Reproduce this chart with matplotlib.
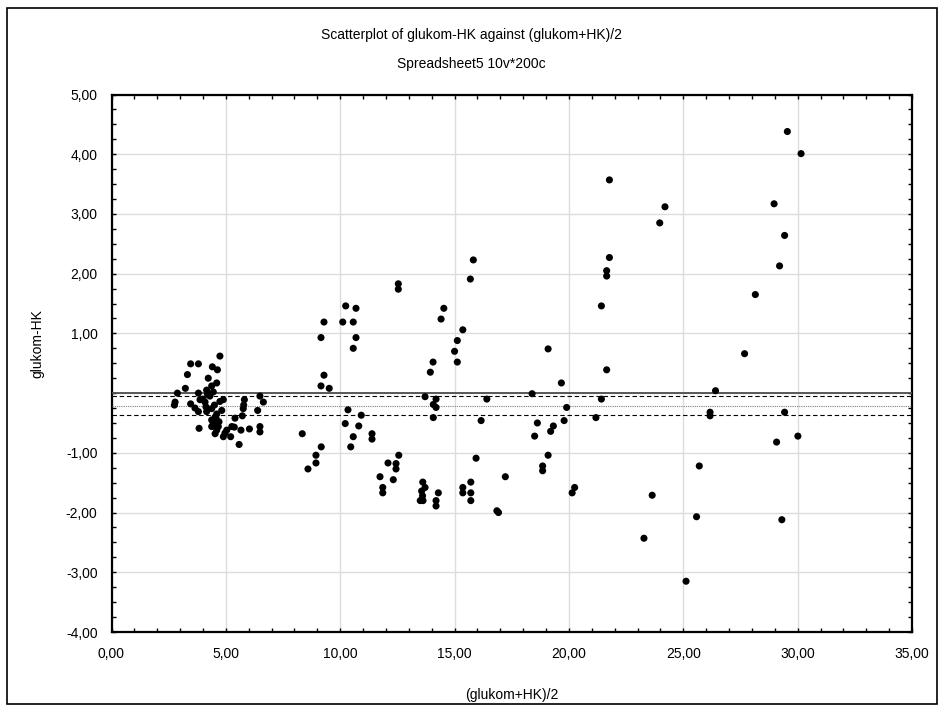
#!/usr/bin/env python3
"""Scatterplot of glukom-HK against (glukom+HK)/2 with mean and 95% CI lines."""

from pathlib import Path

import matplotlib
matplotlib.use("Agg")
import matplotlib.pyplot as plt
from matplotlib.patches import Rectangle
from matplotlib.ticker import FuncFormatter, MultipleLocator

# (glukom+HK)/2 and glukom-HK, grouped roughly by x range
mean_low = [4.74, 3.46, 3.80, 4.41, 4.63, 3.32, 4.23, 4.60, 4.38, 3.23, 4.16, 4.45,
            2.88, 3.80, 4.20, 2.75, 2.78, 3.46, 3.87, 4.09, 4.89, 4.74, 5.81, 6.49,
            6.64, 5.76, 5.78, 6.39, 3.80, 4.13, 4.38, 4.16, 4.82, 5.40, 5.72, 4.57,
            4.53, 4.45, 4.38, 4.67, 4.38, 4.53, 4.60, 4.89, 5.04, 4.96, 5.26, 5.37,
            5.66, 6.03, 6.49, 6.49, 3.83, 5.21, 5.58, 4.70, 4.60, 4.50, 4.30, 3.65,
            4.00]
diff_low = [0.62, 0.49, 0.49, 0.44, 0.39, 0.31, 0.25, 0.17, 0.12, 0.08, 0.05, 0.02,
            0.00, 0.00, -0.02, -0.20, -0.15, -0.18, -0.11, -0.15, -0.11, -0.14, -0.11, -0.05,
            -0.15, -0.26, -0.20, -0.29, -0.31, -0.23, -0.26, -0.31, -0.29, -0.42, -0.38, -0.42,
            -0.40, -0.51, -0.45, -0.56, -0.56, -0.68, -0.62, -0.73, -0.62, -0.67, -0.56, -0.57,
            -0.62, -0.60, -0.56, -0.65, -0.59, -0.73, -0.86, -0.48, -0.35, -0.20, -0.05, -0.25,
            -0.10]

mean_mid = [8.34, 9.29, 9.16, 9.29, 9.16, 9.52, 10.24, 10.69, 10.11, 10.57, 10.69, 10.57,
            10.34, 10.92, 10.22, 10.81, 10.57, 10.46, 9.17, 8.94, 8.94, 8.59, 11.39, 11.39,
            12.56, 12.09, 12.44, 12.44, 11.74, 12.32, 11.86, 11.86, 12.54, 12.54]
diff_mid = [-0.68, 1.19, 0.93, 0.30, 0.12, 0.08, 1.46, 1.42, 1.19, 1.19, 0.93, 0.75,
            -0.28, -0.37, -0.51, -0.55, -0.73, -0.90, -0.90, -1.04, -1.17, -1.27, -0.68, -0.77,
            -1.04, -1.17, -1.18, -1.27, -1.40, -1.45, -1.58, -1.67, 1.83, 1.74]

mean_upper = [13.71, 13.94, 14.06, 14.19, 14.07, 14.19, 14.07, 14.53, 14.41, 15.00, 15.12, 15.12,
              15.36, 15.69, 15.82, 16.41, 16.16, 15.94, 17.22, 16.85, 16.92, 13.61, 13.71, 13.56,
              13.50, 13.62, 14.29, 14.19, 14.19, 15.71, 15.36, 15.36, 15.71, 15.71, 13.60]
diff_upper = [-0.06, 0.35, 0.52, -0.10, -0.19, -0.24, -0.41, 1.42, 1.24, 0.70, 0.88, 0.52,
              1.06, 1.91, 2.23, -0.10, -0.46, -1.09, -1.40, -1.97, -2.00, -1.49, -1.58, -1.64,
              -1.80, -1.80, -1.67, -1.80, -1.89, -1.49, -1.58, -1.67, -1.67, -1.80, -1.72]

mean_high = [21.77, 24.20, 23.97, 21.77, 21.65, 21.65, 21.42, 19.09, 21.65, 19.67, 18.39, 21.42,
             19.90, 18.62, 19.79, 19.32, 19.20, 21.18, 18.50, 19.09, 18.85, 18.85, 20.25, 20.14,
             23.64, 23.28]
diff_high = [3.57, 3.12, 2.85, 2.27, 2.05, 1.96, 1.46, 0.74, 0.39, 0.17, -0.01, -0.10,
             -0.24, -0.50, -0.46, -0.55, -0.64, -0.41, -0.72, -1.04, -1.22, -1.30, -1.58, -1.67,
             -1.71, -2.43]

mean_top = [29.55, 30.15, 28.97, 29.43, 29.21, 28.15, 27.68, 26.41, 26.17, 26.17, 29.43, 30.01,
            29.08, 25.70, 25.58, 29.31, 25.12]
diff_top = [4.38, 4.01, 3.17, 2.64, 2.13, 1.65, 0.66, 0.04, -0.32, -0.38, -0.32, -0.72,
            -0.82, -1.22, -2.07, -2.12, -3.15]

# reference line, upper CI, mean difference, lower CI
zero_line = 0.0
ci_upper = -0.05
mean_diff = -0.21
ci_lower = -0.37

x_ticks = [0, 5, 10, 15, 20, 25, 30, 35]
y_ticks = [-4, -3, -2, -1, 0, 1, 2, 3, 4, 5]


def _comma(v, _pos=None):
    return f"{v:.2f}".replace(".", ",")


def _comma_skip_zero(v, _pos=None):
    if abs(v) < 1e-9:
        return ""
    return _comma(v)


def main() -> None:
    plt.rcParams["font.family"] = ["Liberation Sans", "DejaVu Sans"]
    plt.rcParams["font.size"] = 10

    W, H = 943, 708
    fig = plt.figure(figsize=(W / 100, H / 100), dpi=100)
    left, right, top, bottom = 111.5, 912, 94.5, 632
    ax = fig.add_axes([left / W, 1 - bottom / H, (right - left) / W, (bottom - top) / H])

    xs = mean_low + mean_mid + mean_upper + mean_high + mean_top
    ys = diff_low + diff_mid + diff_upper + diff_high + diff_top
    ax.scatter(xs, ys, s=26, color="black", edgecolors="none", zorder=4)

    ax.axhline(zero_line, color="#4d4d4d", lw=1.3, zorder=3)
    ax.axhline(ci_upper, color="black", lw=0.8, ls=(0, (4, 2.5)), zorder=3)
    ax.axhline(mean_diff, color="#7f7f7f", lw=0.8, ls=(0, (1, 1)), zorder=3)
    ax.axhline(ci_lower, color="black", lw=0.8, ls=(0, (4, 2.5)), zorder=3)

    ax.set_xlim(0, 35)
    ax.set_ylim(-4, 5)
    ax.set_xticks(x_ticks)
    ax.set_yticks(y_ticks)
    ax.xaxis.set_major_formatter(FuncFormatter(_comma))
    ax.yaxis.set_major_formatter(FuncFormatter(_comma_skip_zero))
    ax.xaxis.set_minor_locator(MultipleLocator(1))
    ax.yaxis.set_minor_locator(MultipleLocator(0.25))
    ax.tick_params(which="both", direction="in", top=True, right=True, color="black")
    ax.tick_params(which="major", length=3, width=1.0, labelsize=10)
    ax.tick_params(which="minor", length=3, width=1.0)
    ax.tick_params(axis="y", which="major", pad=10)
    ax.tick_params(axis="x", which="major", pad=11)

    ax.grid(True, which="major", color="#dcdcdc", lw=1.0, zorder=0)
    ax.set_axisbelow(True)
    for sp in ax.spines.values():
        sp.set_linewidth(1.6)
        sp.set_color("black")

    ax.set_xlabel("(glukom+HK)/2", fontsize=10, labelpad=19)

    fig.text(37 / W, 1 - 344 / H, "glukom-HK", rotation=90,
             ha="center", va="center", fontsize=10)
    fig.text(0.5, 1 - 35 / H, "Scatterplot of glukom-HK against (glukom+HK)/2",
             ha="center", va="center", fontsize=10)
    fig.text(0.5, 1 - 64 / H, "Spreadsheet5 10v*200c",
             ha="center", va="center", fontsize=10)

    # outer frame around the whole figure
    fig.patches.append(Rectangle((7 / W, 4 / H), 930 / W, 696 / H,
                                 transform=fig.transFigure, fill=False,
                                 edgecolor="black", lw=1.2))

    out = Path("out.png")
    fig.savefig(out, dpi=100)
    print(f"Saved: {out}")


if __name__ == "__main__":
    main()
